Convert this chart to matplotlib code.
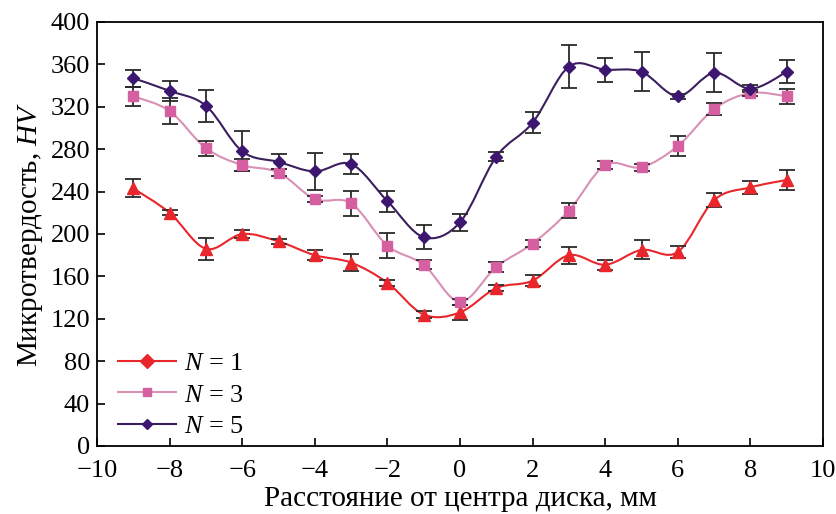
import numpy as np
import matplotlib
matplotlib.use("Agg")
import matplotlib.pyplot as plt
from matplotlib.path import Path
from matplotlib.patches import PathPatch
from matplotlib.lines import Line2D

plt.rcParams['font.family'] = ['Liberation Serif', 'DejaVu Serif']
plt.rcParams['mathtext.fontset'] = 'custom'
plt.rcParams['mathtext.rm'] = 'Liberation Serif'
plt.rcParams['mathtext.it'] = 'Liberation Serif:italic'

x = [-9, -8, -7, -6, -5, -4, -3, -2, -1, 0, 1, 2, 3, 4, 5, 6, 7, 8, 9]

n1 = [243, 220, 186, 200, 193, 180, 173, 154, 124, 126, 149, 156, 180, 171, 185, 183, 232, 244, 251]
n1_err = [8.5, 2.5, 10.5, 3.5, 2.5, 4.7, 8, 3, 3.3, 7, 3, 5, 8, 4.7, 9, 6, 6.6, 5.8, 9.5]

n3 = [330, 316, 281, 265, 258, 233, 229, 189, 171, 136, 169, 191, 222, 265, 263, 283, 318, 333, 330]
n3_err = [9, 12, 7, 6, 3, 3, 12, 11.5, 4, 3, 5, 3.5, 7, 3.5, 3.5, 9, 5.5, 3, 7]

n5 = [347, 335, 321, 278, 268, 259, 266, 231, 197, 211, 273, 305, 358, 355, 353, 330, 352, 337, 353]
n5_err = [8, 9.5, 15, 19, 7, 17.5, 9, 10, 11.5, 8, 4, 10, 20, 11.5, 18.5, 2.5, 18.5, 3.5, 11]

labels = [r"$N$ = 1", r"$N$ = 3", r"$N$ = 5"]
xticks = [-10, -8, -6, -4, -2, 0, 2, 4, 6, 8, 10]
yticks = [0, 40, 80, 120, 160, 200, 240, 280, 320, 360, 400]

c1, c1m = '#E8262B', '#E8262B'
c3, c3m = '#D890B4', '#D55FA0'
c5, c5m = '#3A1E5E', '#3D1670'


def smooth_path(xs, ys):
    xs = np.asarray(xs, float)
    ys = np.asarray(ys, float)
    verts = [(xs[0], ys[0])]
    codes = [Path.MOVETO]
    n = len(xs)
    for i in range(n - 1):
        p0 = np.array([xs[max(i - 1, 0)], ys[max(i - 1, 0)]])
        p1 = np.array([xs[i], ys[i]])
        p2 = np.array([xs[i + 1], ys[i + 1]])
        p3 = np.array([xs[min(i + 2, n - 1)], ys[min(i + 2, n - 1)]])
        t = 0.5
        c1p = p1 + (p2 - p0) * t / 3.0
        c2p = p2 - (p3 - p1) * t / 3.0
        verts += [tuple(c1p), tuple(c2p), tuple(p2)]
        codes += [Path.CURVE4] * 3
    return Path(verts, codes)


fig = plt.figure(figsize=(8.37, 5.14), dpi=100)
ax = fig.add_axes([0.1159, 0.1323, 0.8674, 0.8249])

series = [
    (n1, n1_err, c1, c1m, '^', 8),
    (n3, n3_err, c3, c3m, 's', 6.5),
    (n5, n5_err, c5, c5m, 'D', 6),
]
for ys, es, lc, mc, mk, ms in series:
    ax.add_patch(PathPatch(smooth_path(x, ys), facecolor='none', edgecolor=lc, lw=1.5, zorder=2))
    ax.errorbar(x, ys, yerr=es, fmt='none', ecolor='#2a2a2a', elinewidth=1.3, capsize=6, capthick=1.3, zorder=3)
    ax.plot(x, ys, linestyle='none', marker=mk, markersize=ms, color=mc, zorder=4)

handles = [
    Line2D([], [], color=c1, lw=1.5, marker='D', markersize=7, markerfacecolor=c1m, markeredgecolor=c1m),
    Line2D([], [], color=c3, lw=1.5, marker='s', markersize=6, markerfacecolor=c3m, markeredgecolor=c3m),
    Line2D([], [], color=c5, lw=1.5, marker='D', markersize=5.5, markerfacecolor=c5m, markeredgecolor=c5m),
]
ax.legend(handles, labels, loc='lower left', bbox_to_anchor=(0.018, 0.0), frameon=False,
          fontsize=19, handlelength=2.2, handletextpad=0.3, labelspacing=0.3, borderaxespad=0.0,
          borderpad=0.3)

ax.set_xlim(-10, 10)
ax.set_ylim(0, 400)
ax.set_xticks(xticks)
ax.set_yticks(yticks)
ax.set_xticklabels([("\u2212" + str(-v)) if v < 0 else str(v) for v in xticks])
ax.tick_params(direction='in', length=6, width=1.2, labelsize=19)
ax.tick_params(axis='x', pad=10)
ax.tick_params(axis='y', pad=5)
for s in ax.spines.values():
    s.set_linewidth(1.3)
ax.set_xlabel("Расстояние от центра диска, мм", fontsize=21, labelpad=3)
ax.set_ylabel("Микротвердость, $HV$", fontsize=21, labelpad=4)

fig.savefig("out.png", dpi=100)
